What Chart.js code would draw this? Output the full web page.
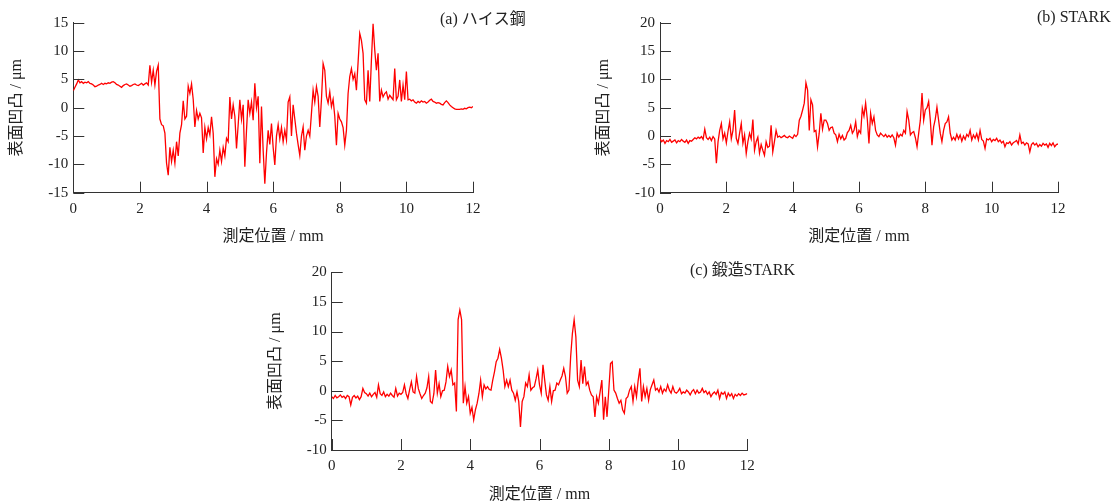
<!DOCTYPE html>
<html>
<head>
<meta charset="utf-8">
<script src="https://cdn.jsdelivr.net/npm/chart.js@4.4.1/dist/chart.umd.min.js"></script>
<style>
  body { margin: 0; background: #fff; }
  canvas { position: absolute; }
</style>
</head>
<body>
<canvas id="chartA" width="545" height="250" style="left:0px;top:0px"></canvas>
<canvas id="chartB" width="527" height="250" style="left:587px;top:0px"></canvas>
<canvas id="chartC" width="545" height="258" style="left:259px;top:250px"></canvas>
<script>
// sampling interval of the profiles (mm)
const stepMm = 0.05;

const xTicks = [0, 2, 4, 6, 8, 10, 12];
const yTicksA = [-15, -10, -5, 0, 5, 10, 15];
const yTicksBC = [-10, -5, 0, 5, 10, 15, 20];

// (a) ハイス鋼  surface profile, um
const heightA = [
  3.0, 3.6, 4.2, 4.9, 4.4, 4.6, 4.3, 4.5, 4.4, 4.6, 4.3, 4.2, 4.0, 3.7, 3.8, 4.0, 4.1, 4.3, 4.1, 4.3,
  4.2, 4.4, 4.3, 4.5, 4.6, 4.4, 4.1, 4.0, 3.8, 3.6, 3.9, 4.1, 4.2, 4.0, 3.8, 3.9, 4.1, 4.2, 4.0, 3.9,
  4.1, 4.3, 4.0, 4.2, 4.4, 4.0, 7.5, 4.5, 6.6, 4.0, 6.4, 7.5, -2.0, -3.0, -3.2, -4.5, -9.8, -11.9, -7.0, -9.5,
  -7.5, -9.8, -6.0, -8.5, -4.5, -3.0, 1.2, -2.0, -1.5, 3.8, 2.5, 4.2, 1.5, -3.4, -0.5, -2.0, -1.0, -1.8, -8.0, -3.5,
  -5.5, -3.5, -4.8, -1.6, -4.5, -12.2, -9.0, -10.0, -7.5, -9.5, -7.0, -8.5, -5.4, -6.0, 1.9, -2.0, 0.5, -1.5, -7.2, -3.0,
  1.4, -2.0, 0.5, -10.4, -4.0, 1.4, -1.0, 1.0, -2.2, 4.3, 0.0, 2.0, -9.8, 0.2, -7.5, -13.4, -8.0, -4.0, -6.5, -2.8,
  -7.0, -10.1, -5.0, -3.0, -5.5, -3.5, -6.0, -4.0, -5.7, 1.0, 1.9, -5.0, 0.5, -2.0, -4.5, -6.5, -8.4, -5.0, -3.4, -7.5,
  -5.0, -4.0, -5.0, -1.0, 3.1, 1.0, 3.7, 2.0, -3.4, 1.4, 7.8, 6.6, 2.0, 0.8, 2.8, 0.2, 1.5, -1.5, -6.6, -1.0,
  -2.0, -2.5, -3.5, -6.6, -4.0, 2.5, 5.5, 6.9, 5.0, 6.0, 3.1, 8.0, 13.1, 11.9, 9.6, 1.4, 0.8, 6.6, 1.1, 8.4,
  14.8, 10.2, 6.6, 9.6, 1.1, 3.1, 1.9, 2.5, 2.8, 1.5, 2.2, 1.8, 1.4, 6.9, 1.4, 2.0, 4.9, 1.1, 4.0, 1.4,
  6.4, 1.4, 1.5, 1.2, 1.4, 1.0, 0.8, 1.1, 0.9, 1.2, 1.0, 1.1, 0.8, 1.0, 1.3, 1.5, 1.1, 1.0, 0.8, 0.9,
  0.8, 0.6, 0.5, 0.9, 1.2, 0.9, 0.5, 0.2, 0.0, -0.2, -0.3, -0.3, -0.3, -0.2, -0.3, -0.1, -0.2, 0.0, 0.1, 0.0, 0.2
];

// (b) STARK
const heightB = [
  -0.5, -1.0, -0.7, -1.3, -0.8, -1.0, -0.6, -1.1, -0.9, -0.7, -1.2, -0.8, -1.0, -0.6, -0.9, -1.1, -0.7, -1.3, -0.8, -0.9,
  -0.6, -0.3, -0.5, -0.2, -0.4, -0.1, -0.6, 1.2, -0.3, -0.6, -0.2, -0.8, -0.1, -0.5, -4.8, -1.0, 1.0, 2.2, -0.5, 0.5,
  -1.2, 0.8, 2.5, -0.5, 1.0, 4.6, -0.4, -1.3, 0.5, 2.2, -1.3, 0.2, -3.1, -1.0, 0.5, -0.5, 2.9, -2.5, -1.0, -0.2,
  -3.0, -1.5, -2.5, -3.4, -1.0, -2.0, -1.8, 1.9, -2.8, -1.0, 1.0, -0.2, 0.0, -0.3, -0.1, 0.1, -0.2, -0.3, 0.0, -0.2,
  -0.4, 0.2, -0.1, 0.3, 2.8, 3.5, 4.6, 5.8, 9.4, 8.1, 1.0, 6.4, 5.5, 0.8, 1.0, -1.9, 0.5, 4.0, 1.2, 2.8,
  2.8, 2.2, 1.0, 1.5, 1.6, 0.5, 0.2, -1.0, 0.3, -0.5, 0.1, -0.7, -0.4, 0.6, 1.0, 1.9, 0.5, 1.0, 2.5, -0.1,
  1.0, 0.5, 4.9, 3.5, 5.8, 3.0, -1.3, 4.0, 2.2, 3.4, 1.0, 0.2, -0.1, 0.5, 0.2, -0.1, 0.3, -0.2, 0.1, -0.2,
  0.2, -0.3, -1.6, 0.5, -0.2, 0.3, 0.0, 1.0, 0.5, 4.3, 2.8, 0.2, 0.6, 0.8, -0.3, -1.9, 0.5, 2.8, 7.6, 2.8,
  4.6, 5.0, 6.1, 2.8, -1.6, 1.6, 3.0, 5.1, 2.8, 0.5, -1.0, 1.0, 2.2, 2.5, 3.4, 0.5, -0.7, -0.2, -0.7, 0.3,
  -0.5, 0.2, -0.9, 0.0, -0.6, 0.3, -0.1, 1.0, -0.7, 0.2, -0.4, 0.4, -0.7, 1.0, -0.6, -0.9, -2.2, -0.5, -0.7, -0.4,
  -1.0, -0.6, -0.8, -0.4, -1.0, -0.7, -1.2, -0.9, -1.9, -1.2, -1.3, -1.0, -1.6, -1.2, -1.0, -0.8, -1.4, 0.2, -1.3, -1.1,
  -1.6, -1.2, -1.4, -2.8, -1.5, -1.2, -1.6, -1.3, -1.9, -1.5, -1.8, -1.3, -1.6, -1.4, -2.0, -1.3, -1.7, -1.2, -1.9, -1.5, -1.4
];

// (c) 鍛造STARK
const heightC = [
  -1.0, -1.3, -0.8, -1.2, -1.0, -0.7, -1.1, -0.9, -1.3, -0.8, -1.0, -2.4, -1.1, -0.8, -1.2, -0.9, -1.5, -1.0, 0.4, -0.3,
  -0.5, -0.9, -0.4, -1.0, -0.6, -0.3, -1.1, 1.0, -0.5, -0.8, -0.2, -1.0, -0.6, -0.9, -0.4, -0.8, -1.1, 0.4, -0.9, -0.4,
  -0.6, -0.3, 1.0, -0.5, -1.3, 0.2, 1.5, -0.2, -0.4, 2.4, 0.4, -0.5, -1.3, -0.8, -0.4, 0.5, 2.4, -1.8, -2.1, -0.5,
  3.5, -0.4, 1.2, -1.0, 0.0, 0.1, 1.5, 4.1, 2.4, 3.5, 1.0, 1.3, -3.5, 12.0, 13.6, 12.0, -2.1, 0.7, -2.1, -1.0,
  -3.8, -2.8, -4.9, -3.2, -2.1, -0.5, 1.8, -1.0, 1.0, 0.3, 0.7, 0.2, 0.1, 1.8, 3.2, 4.9, 5.5, 7.0, 5.5, 3.5,
  0.7, 1.8, 0.7, 1.8, 0.1, -0.4, -1.6, -0.2, -1.8, -6.1, -1.8, -1.0, 1.3, 0.7, 2.7, 0.1, 0.5, 0.7, 2.0, 3.5,
  1.0, -0.4, 4.4, 1.8, -0.7, -1.6, 0.7, -1.8, 0.0, 0.1, 1.3, 1.0, 1.8, 2.5, 3.8, 2.4, -0.4, 0.1, 5.8, 9.7,
  12.0, 9.1, 1.8, 0.7, 5.2, 1.2, 4.1, 1.0, 1.5, 0.1, -0.7, -1.0, -4.4, -1.0, -2.1, -0.2, 1.8, -4.9, -1.0, -4.4,
  0.1, 4.6, 4.9, 0.1, -0.4, -1.3, -2.1, -1.6, -3.2, -3.8, -1.3, -1.0, 0.1, 0.7, -1.8, 0.7, -1.0, 1.8, 3.8, -1.8,
  0.7, -1.0, 0.4, -1.6, 0.2, 1.0, 1.8, 0.1, 0.4, -0.2, 0.7, -0.4, 0.3, -0.1, 1.0, 0.1, -0.4, 0.7, -0.2, -0.4,
  -0.1, 0.4, -0.5, -0.2, -0.4, 0.1, -0.2, -0.7, -0.1, 0.2, -0.5, 0.1, -0.4, -0.2, 0.4, -0.3, 0.0, -0.6, -0.2, -1.0,
  -0.5, -0.2, -0.6, 0.1, -1.3, -0.3, -0.6, -0.2, -1.3, -0.4, -0.9, -0.5, -1.3, -0.6, -0.9, -0.5, -0.8, -0.4, -0.7, -0.6, -0.5
];

const FONT = "'Liberation Serif', 'Noto Sans CJK JP', serif";
const INK = "#222";

// inward tick marks + panel caption
const innerTicks = {
  id: "innerTicks",
  afterDraw(chart, args, opts) {
    const ctx = chart.ctx;
    const area = chart.chartArea;
    const xs = chart.scales.x, ys = chart.scales.y;
    ctx.save();
    ctx.strokeStyle = "#333";
    ctx.lineWidth = 1;
    ctx.beginPath();
    xs.ticks.forEach(t => {
      const px = Math.round(xs.getPixelForValue(t.value)) + 0.5;
      ctx.moveTo(px, area.bottom);
      ctx.lineTo(px, area.bottom - 11);
    });
    ys.ticks.forEach(t => {
      const py = Math.round(ys.getPixelForValue(t.value)) + 0.5;
      ctx.moveTo(area.left, py);
      ctx.lineTo(area.left + 11, py);
    });
    ctx.stroke();
    ctx.fillStyle = INK;
    ctx.font = "16px " + FONT;
    ctx.textBaseline = "middle";
    ctx.textAlign = "left";
    ctx.fillText(opts.caption, opts.cx, opts.cy);
    ctx.restore();
  }
};

function makePanel(id, heights, yMin, yMax, box, caption) {
  const pts = heights.map((v, i) => ({ x: i * stepMm, y: v }));
  return new Chart(document.getElementById(id), {
    type: "line",
    data: {
      datasets: [{
        data: pts,
        borderColor: "#ff0000",
        borderWidth: 1.3,
        pointRadius: 0,
        tension: 0,
        fill: false
      }]
    },
    options: {
      responsive: false,
      animation: false,
      events: [],
      layout: { padding: { left: 0, top: box.t, right: box.w - box.r, bottom: 0 } },
      plugins: {
        legend: { display: false },
        tooltip: { enabled: false },
        innerTicks: caption
      },
      scales: {
        x: {
          type: "linear",
          min: 0, max: 12,
          afterBuildTicks: s => { s.ticks = xTicks.map(v => ({ value: v })); },
          afterFit: s => { s.height = box.h - box.b; },
          grid: { display: false, drawTicks: false },
          border: { display: true, color: "#333", width: 1 },
          ticks: { color: INK, font: { family: FONT, size: 15 }, padding: 7, maxRotation: 0 },
          title: {
            display: true, text: "測定位置 / mm", color: INK,
            font: { family: FONT, size: 16 }, padding: { top: 0, bottom: 4 }
          }
        },
        y: {
          min: yMin, max: yMax,
          afterBuildTicks: s => { s.ticks = (yMin === -15 ? yTicksA : yTicksBC).map(v => ({ value: v })); },
          afterFit: s => { s.width = box.l; },
          grid: { display: false, drawTicks: false },
          border: { display: true, color: "#333", width: 1 },
          ticks: { color: INK, font: { family: FONT, size: 15 }, padding: 5 },
          title: {
            display: true, text: "表面凹凸 / μm", color: INK,
            font: { family: FONT, size: 16 }, padding: { top: 7, bottom: 0 }
          }
        }
      }
    },
    plugins: [innerTicks]
  });
}

makePanel("chartA", heightA, -15, 15,
  { w: 545, h: 250, l: 73.3, t: 22.7, r: 473, b: 192.7 },
  { caption: "(a) ハイス鋼", cx: 440, cy: 20 });
makePanel("chartB", heightB, -10, 20,
  { w: 527, h: 250, l: 73, t: 22.7, r: 471, b: 192.7 },
  { caption: "(b) STARK", cx: 450, cy: 18 });
makePanel("chartC", heightC, -10, 20,
  { w: 545, h: 258, l: 72.7, t: 22.3, r: 488.3, b: 200 },
  { caption: "(c) 鍛造STARK", cx: 431, cy: 21 });
</script>
</body>
</html>
